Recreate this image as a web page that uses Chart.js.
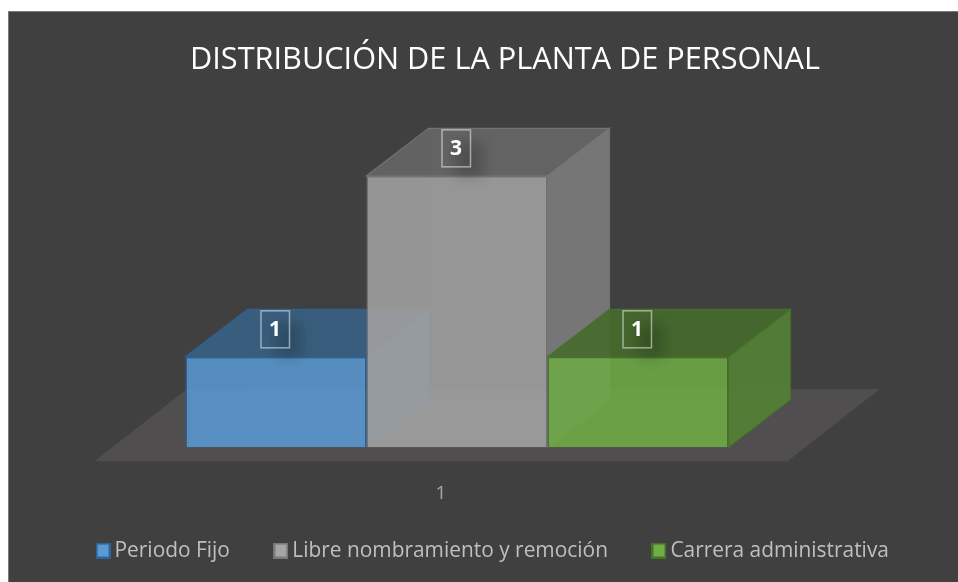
<!DOCTYPE html>
<html>
<head>
  <title>Distribución de la planta de personal</title>
  <script src="https://cdn.jsdelivr.net/npm/chart.js"></script>
  <style>
    html, body { margin: 0; background: #fff; overflow: hidden; }
    #frame { position: absolute; left: 8px; top: 11px; width: 950px; height: 571px; background: #404040; border-left: 1px solid #7a7a7a; border-top: 1px solid #7a7a7a; box-sizing: border-box; }
    #plantaChart { position: absolute; left: 0; top: 0; }
  </style>
</head>
<body>
  <div id="frame"></div>
  <canvas id="plantaChart" width="958" height="582"></canvas>

  <script>
    const categories = ['1'];
    const seriesNames = ['Periodo Fijo', 'Libre nombramiento y remoción', 'Carrera administrativa'];
    const periodoFijo = [1];
    const libreNombramiento = [3];
    const carreraAdministrativa = [1];
    const seriesRgb = ['91,155,213', '165,165,165', '112,173,71'];
    const edgeRgb = ['46,100,150', '120,120,120', '70,115,40'];

    // depth of the fake 3D boxes, in px
    const DEPTH_X = 62, DEPTH_Y = -47.5;

    function shade(rgb, k, a) {
      const c = rgb.split(',').map(v => Math.round(v * k));
      return `rgba(${c[0]},${c[1]},${c[2]},${a})`;
    }

    function poly(ctx, pts, fill, stroke) {
      ctx.beginPath();
      pts.forEach((p, i) => i ? ctx.lineTo(p[0], p[1]) : ctx.moveTo(p[0], p[1]));
      ctx.closePath();
      ctx.fillStyle = fill;
      ctx.fill();
      if (stroke) {
        ctx.strokeStyle = stroke;
        ctx.lineWidth = 1.2;
        ctx.stroke();
      }
    }

    function legendSwatch(rgb, edge) {
      const c = document.createElement('canvas');
      c.width = 15; c.height = 16;
      const g = c.getContext('2d');
      g.fillStyle = `rgb(${edge})`;
      g.fillRect(0, 0, 15, 16);
      g.fillStyle = `rgb(${rgb})`;
      g.fillRect(2, 2, 11, 12);
      return c;
    }

    const box3d = {
      id: 'box3d',
      // move title and legend to where the original has them
      afterLayout(chart) {
        chart.titleBlock.left += 48; chart.titleBlock.right += 48;
        chart.legend.left += 38.5; chart.legend.right += 38.5;
        chart.legend.top -= 42; chart.legend.bottom -= 42;
      },
      beforeDatasetDraw() {
        return false;
      },
      beforeDatasetsDraw(chart) {
        const ctx = chart.ctx;
        const first = chart.getDatasetMeta(0).data[0];
        const last = chart.getDatasetMeta(2).data[0];
        const left = first.x - first.width / 2, right = last.x + last.width / 2;
        const base = chart.scales.y.getPixelForValue(0);
        // floor
        poly(ctx, [[left - 91, base + 14], [right + 59, base + 14], [right + 151, base - 58], [left + 1, base - 58]], '#504e4e');
      },
      afterDatasetsDraw(chart) {
        const ctx = chart.ctx;
        chart.data.datasets.forEach((ds, i) => {
          const bar = chart.getDatasetMeta(i).data[0];
          const l = bar.x - bar.width / 2, r = bar.x + bar.width / 2;
          const t = bar.y, b = bar.base;
          const dx = DEPTH_X, dy = DEPTH_Y;
          const rgb = seriesRgb[i], edge = `rgba(${edgeRgb[i]},0.8)`;
          ctx.save();
          // hidden faces, they show through a little
          poly(ctx, [[l, b], [r, b], [r + dx, b + dy], [l + dx, b + dy]], shade(rgb, 0.8, 0.3));
          poly(ctx, [[l, t], [l + dx, t + dy], [l + dx, b + dy], [l, b]], shade(rgb, 0.6, 0.3));
          poly(ctx, [[l + dx, t + dy], [r + dx, t + dy], [r + dx, b + dy], [l + dx, b + dy]], shade(rgb, 0.7, 0.3));
          // front face is the real bar element
          bar.draw(ctx, chart.chartArea);
          poly(ctx, [[r, t], [r + dx, t + dy], [r + dx, b + dy], [r, b]], shade(rgb, 0.75, 0.85), edge);
          poly(ctx, [[l, t], [l + dx, t + dy], [r + dx, t + dy], [r, t]], shade(rgb, 0.62, 0.85), edge);
          ctx.restore();
        });
        // value labels on top of everything
        chart.data.datasets.forEach((ds, i) => {
          const bar = chart.getDatasetMeta(i).data[0];
          const cx = bar.x - 1, cy = bar.y - 27.5;
          ctx.save();
          ctx.shadowColor = 'rgba(0,0,0,0.2)';
          ctx.shadowBlur = 14;
          ctx.shadowOffsetX = 2000;
          ctx.fillStyle = '#000';
          ctx.fillRect(cx - 2000, cy - 6, 26, 34);
          ctx.restore();
          ctx.save();
          ctx.strokeStyle = 'rgba(255,255,255,0.5)';
          ctx.lineWidth = 1.5;
          ctx.strokeRect(cx - 14, cy - 18.5, 28.5, 37);
          ctx.fillStyle = '#fff';
          ctx.font = 'bold 21px "Open Sans"';
          ctx.textAlign = 'center';
          ctx.textBaseline = 'middle';
          ctx.fillText(String(ds.data[0]), cx, cy + 1);
          ctx.restore();
        });
      }
    };

    new Chart(document.getElementById('plantaChart'), {
      type: 'bar',
      plugins: [box3d],
      data: {
        labels: categories,
        datasets: [
          { label: seriesNames[0], data: periodoFijo },
          { label: seriesNames[1], data: libreNombramiento },
          { label: seriesNames[2], data: carreraAdministrativa }
        ].map((d, i) => ({
          ...d,
          backgroundColor: `rgba(${seriesRgb[i]},0.83)`,
          borderColor: `rgba(${edgeRgb[i]},0.8)`,
          borderWidth: 1.5,
          barPercentage: 1,
          categoryPercentage: 543 / 914
        }))
      },
      options: {
        responsive: false,
        animation: false,
        layout: { padding: { left: 0, right: 44, top: 42, bottom: -31 } },
        scales: {
          x: {
            grid: { display: false },
            border: { display: false },
            ticks: { color: '#a6a6a6', font: { family: '"Open Sans"', size: 19 }, padding: 27, labelOffset: -16 }
          },
          y: { display: false, min: 0, max: 3 }
        },
        plugins: {
          title: {
            display: true,
            text: 'DISTRIBUCIÓN DE LA PLANTA DE PERSONAL',
            color: '#ffffff',
            font: { family: '"Open Sans"', size: 30.7, weight: 'normal' },
            padding: { top: 0, bottom: 97 }
          },
          legend: {
            position: 'bottom',
            labels: {
              color: '#bfbfbf',
              font: { family: '"Open Sans"', size: 20.9 },
              usePointStyle: true,
              boxWidth: 2,
              padding: 50,
              generateLabels(chart) {
                return seriesNames.map((name, i) => ({
                  text: name,
                  fontColor: '#bfbfbf',
                  pointStyle: legendSwatch(seriesRgb[i], edgeRgb[i]),
                  datasetIndex: i
                }));
              }
            }
          },
          tooltip: { enabled: false }
        }
      }
    });
  </script>
</body>
</html>
